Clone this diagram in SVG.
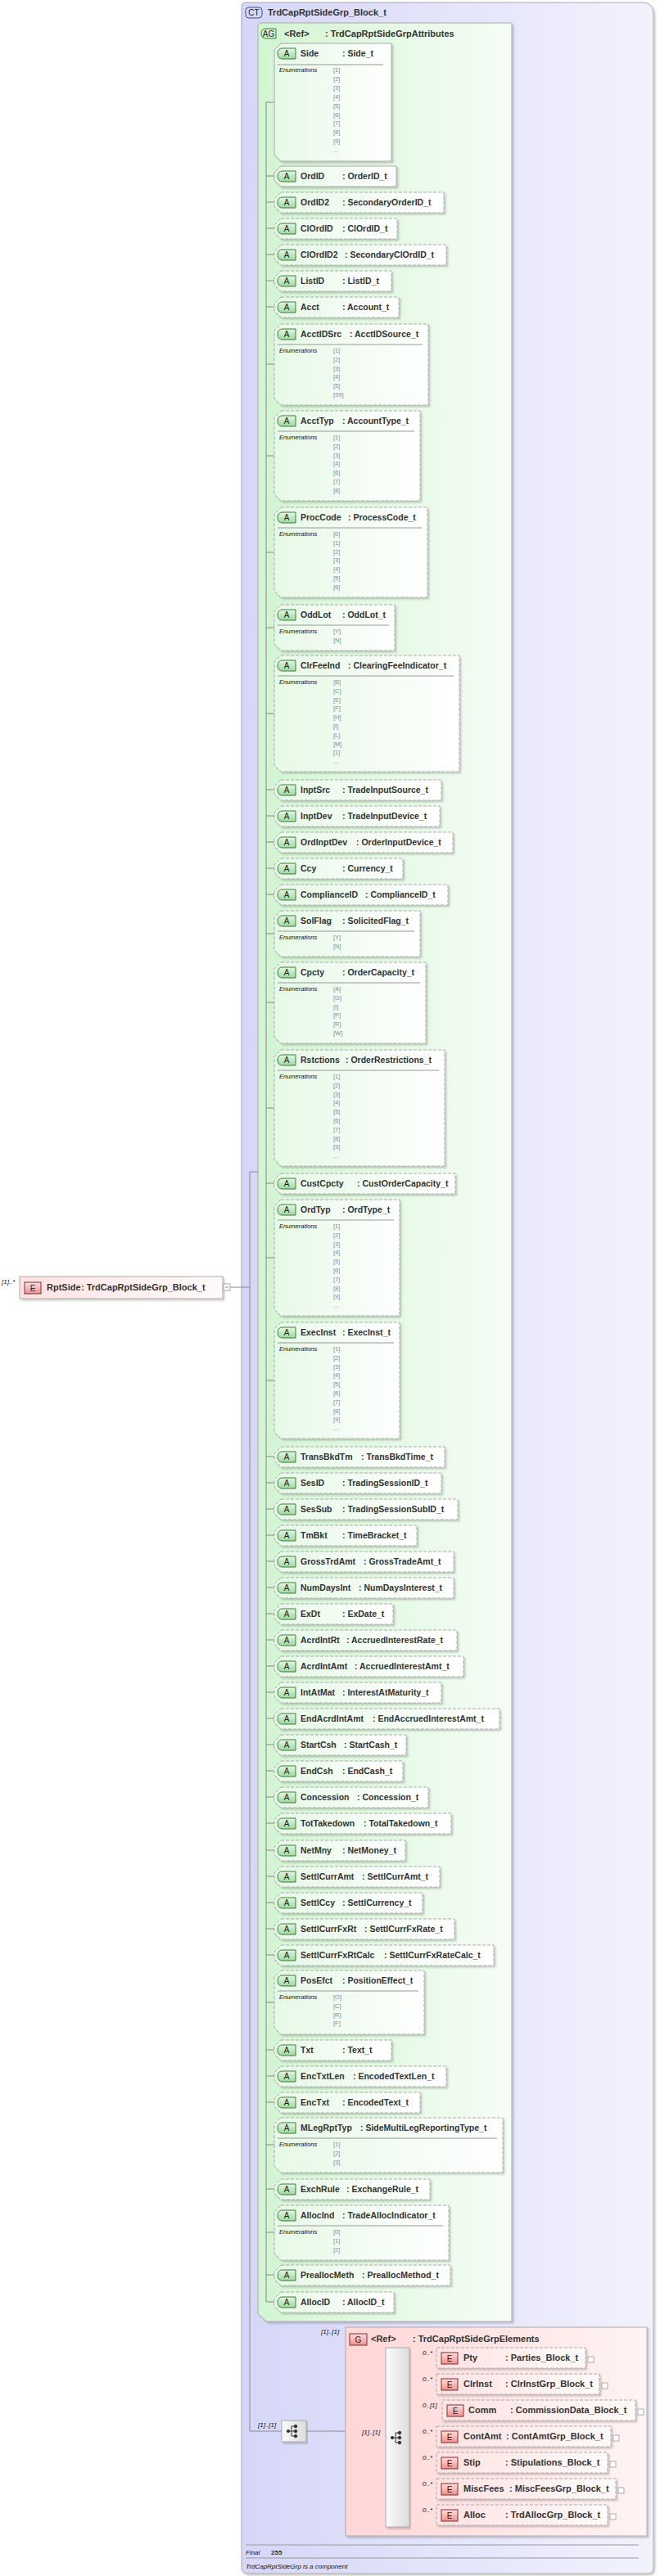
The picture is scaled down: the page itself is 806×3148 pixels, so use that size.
<svg xmlns="http://www.w3.org/2000/svg" width="806" height="3148" viewBox="0 0 806 3148">
<defs>
<linearGradient id="gct" x1="0" y1="0" x2="1" y2="0"><stop offset="0" stop-color="#d6d6f8"/><stop offset="1" stop-color="#f2f2fd"/></linearGradient>
<linearGradient id="gag" x1="0" y1="0" x2="1" y2="0"><stop offset="0" stop-color="#d2f5d2"/><stop offset="1" stop-color="#f6fdf6"/></linearGradient>
<linearGradient id="gat" x1="0" y1="0" x2="1" y2="0"><stop offset="0" stop-color="#e6f9e6"/><stop offset="1" stop-color="#ffffff"/></linearGradient>
<linearGradient id="gg" x1="0" y1="0" x2="1" y2="0"><stop offset="0" stop-color="#ffd6d6"/><stop offset="1" stop-color="#fff4f4"/></linearGradient>
<linearGradient id="ge" x1="0" y1="0" x2="1" y2="0"><stop offset="0" stop-color="#ffe2e2"/><stop offset="1" stop-color="#fffafa"/></linearGradient>
<linearGradient id="gs" x1="0" y1="0" x2="1" y2="0"><stop offset="0" stop-color="#fafafa"/><stop offset="1" stop-color="#dcdcdc"/></linearGradient>
<linearGradient id="gba" x1="0" y1="0" x2="0" y2="1"><stop offset="0" stop-color="#e4f7e4"/><stop offset="1" stop-color="#9fd89f"/></linearGradient>
<linearGradient id="gbe" x1="0" y1="0" x2="0" y2="1"><stop offset="0" stop-color="#ffe0e0"/><stop offset="1" stop-color="#f08e8e"/></linearGradient>
<filter id="sh" x="-5%" y="-5%" width="110%" height="120%"><feDropShadow dx="2" dy="2" stdDeviation="0.8" flood-color="#000" flood-opacity="0.2"/></filter>
</defs>
<style>
text{font-family:"Liberation Sans",Arial,sans-serif;fill:#333}
.n{font-size:10.5px;font-weight:bold}
.t{font-size:11px;font-weight:bold}
.bt{font-size:10px;text-anchor:middle;fill:#222}
.en{font-size:7.5px;font-style:italic;fill:#111}
.ev{font-size:7.5px;fill:#888}
.m{font-size:8px;font-style:italic;fill:#111}
.ab{fill:url(#gat);stroke:#aaa;stroke-width:1;filter:url(#sh)}
.d{stroke-dasharray:4,2}
.ba{fill:url(#gba);stroke:#3d7a3d;stroke-width:1}
.be{fill:url(#gbe);stroke:#7a3030;stroke-width:1}
.sep{stroke:#999;stroke-width:1}
.c line,.c polyline{stroke:#888;stroke-width:1;fill:none}
.eb{fill:url(#ge);stroke:#aaa;filter:url(#sh)}
.pm{fill:#fff;stroke:#aaa}
</style>

<g id="CT">
<path d="M300,3H784Q798,3 798,17V3138Q798,3145 791,3145H302Q295,3145 295,3138V8Q295,3 300,3Z" fill="url(#gct)" stroke="#aaa" filter="url(#sh)"/>
<rect x="300" y="9" width="20" height="13" rx="4" fill="#d6d6f8" stroke="#4a4a8a"/>
<text class="bt" x="310" y="19">CT</text>
<text class="t" x="327" y="19">TrdCapRptSideGrp_Block_t</text>
<line x1="300" y1="3110" x2="780" y2="3110" stroke="#999"/>
<text class="m" x="300" y="3122">Final</text>
<text x="331" y="3122" style="font-size:8px;font-weight:bold">255</text>
<line x1="300" y1="3126" x2="780" y2="3126" stroke="#999"/>
<text class="m" x="300" y="3139">TrdCapRptSideGrp is a component</text>
</g>

<g id="AG">
<path d="M320,28H625V2837H325L315,2827V33Q315,28 320,28Z" fill="url(#gag)" stroke="#aaa" filter="url(#sh)"/>
<path d="M325,35H337V47H325Q319,47 319,41Q319,35 325,35Z" fill="#cfeecf" stroke="#3d7a3d"/>
<text class="bt" x="328" y="45">AG</text>
<text class="t" x="347" y="45">&lt;Ref&gt;</text>
<text class="t" x="397" y="45">: TrdCapRptSideGrpAttributes</text>
</g>

<g id="RptSide">
<text class="m" x="2" y="1569">[1]..*</text>
<rect x="24" y="1560" width="248" height="27" fill="url(#ge)" stroke="#aaa" filter="url(#sh)"/>
<rect x="30" y="1567" width="20" height="14" class="be"/>
<text class="bt" x="40" y="1578">E</text>
<text class="t" x="57" y="1577">RptSide</text>
<text class="t" x="99" y="1577">: TrdCapRptSideGrp_Block_t</text>
<rect x="273" y="1569" width="8" height="8" class="pm"/>
<line x1="275" y1="1573" x2="279" y2="1573" stroke="#888"/>
</g>

<g class="c" id="connectors">
<polyline points="281,1573 305,1573"/>
<polyline points="315,1432 305,1432 305,2971 344,2971"/>
<polyline points="374,2971 471,2971"/>
<line x1="325" y1="125" x2="325" y2="2813"/>
<line x1="325" y1="125" x2="335" y2="125"/>
<line x1="325" y1="215" x2="335" y2="215"/>
<line x1="325" y1="247" x2="335" y2="247"/>
<line x1="325" y1="279" x2="335" y2="279"/>
<line x1="325" y1="311" x2="335" y2="311"/>
<line x1="325" y1="343" x2="335" y2="343"/>
<line x1="325" y1="375" x2="335" y2="375"/>
<line x1="325" y1="445" x2="335" y2="445"/>
<line x1="325" y1="557" x2="335" y2="557"/>
<line x1="325" y1="675" x2="335" y2="675"/>
<line x1="325" y1="767" x2="335" y2="767"/>
<line x1="325" y1="872" x2="335" y2="872"/>
<line x1="325" y1="965" x2="335" y2="965"/>
<line x1="325" y1="997" x2="335" y2="997"/>
<line x1="325" y1="1029" x2="335" y2="1029"/>
<line x1="325" y1="1061" x2="335" y2="1061"/>
<line x1="325" y1="1093" x2="335" y2="1093"/>
<line x1="325" y1="1141" x2="335" y2="1141"/>
<line x1="325" y1="1225" x2="335" y2="1225"/>
<line x1="325" y1="1354" x2="335" y2="1354"/>
<line x1="325" y1="1446" x2="335" y2="1446"/>
<line x1="325" y1="1537" x2="335" y2="1537"/>
<line x1="325" y1="1687" x2="335" y2="1687"/>
<line x1="325" y1="1780" x2="335" y2="1780"/>
<line x1="325" y1="1812" x2="335" y2="1812"/>
<line x1="325" y1="1844" x2="335" y2="1844"/>
<line x1="325" y1="1876" x2="335" y2="1876"/>
<line x1="325" y1="1908" x2="335" y2="1908"/>
<line x1="325" y1="1940" x2="335" y2="1940"/>
<line x1="325" y1="1972" x2="335" y2="1972"/>
<line x1="325" y1="2004" x2="335" y2="2004"/>
<line x1="325" y1="2036" x2="335" y2="2036"/>
<line x1="325" y1="2068" x2="335" y2="2068"/>
<line x1="325" y1="2100" x2="335" y2="2100"/>
<line x1="325" y1="2132" x2="335" y2="2132"/>
<line x1="325" y1="2164" x2="335" y2="2164"/>
<line x1="325" y1="2196" x2="335" y2="2196"/>
<line x1="325" y1="2228" x2="335" y2="2228"/>
<line x1="325" y1="2261" x2="335" y2="2261"/>
<line x1="325" y1="2293" x2="335" y2="2293"/>
<line x1="325" y1="2325" x2="335" y2="2325"/>
<line x1="325" y1="2357" x2="335" y2="2357"/>
<line x1="325" y1="2389" x2="335" y2="2389"/>
<line x1="325" y1="2447" x2="335" y2="2447"/>
<line x1="325" y1="2505" x2="335" y2="2505"/>
<line x1="325" y1="2537" x2="335" y2="2537"/>
<line x1="325" y1="2569" x2="335" y2="2569"/>
<line x1="325" y1="2621" x2="335" y2="2621"/>
<line x1="325" y1="2675" x2="335" y2="2675"/>
<line x1="325" y1="2728" x2="335" y2="2728"/>
<line x1="325" y1="2780" x2="335" y2="2780"/>
<line x1="325" y1="2813" x2="335" y2="2813"/>
<line x1="500" y1="2882" x2="533" y2="2882"/>
<line x1="500" y1="2914" x2="533" y2="2914"/>
<line x1="500" y1="2946" x2="540" y2="2946"/>
<line x1="500" y1="2978" x2="533" y2="2978"/>
<line x1="500" y1="3010" x2="533" y2="3010"/>
<line x1="500" y1="3042" x2="533" y2="3042"/>
<line x1="500" y1="3074" x2="533" y2="3074"/>
</g>

<g id="Side" transform="translate(0,53)"><path class="ab" d="M343,0H478V144H343L335,136V8Z"/><path class="ba" d="M345,6H361V19H345Q339,19 339,12.5Q339,6 345,6Z"/><text class="bt" x="350" y="16">A</text><text class="n" x="367" y="16">Side</text><text class="n" x="418" y="16">: Side_t</text><line class="sep" x1="339" y1="26" x2="468" y2="26"/><text class="en" x="341" y="35">Enumerations</text><text class="ev" x="407" y="35">[1]<tspan x="407" dy="10.9">[2]</tspan><tspan x="407" dy="10.9">[3]</tspan><tspan x="407" dy="10.9">[4]</tspan><tspan x="407" dy="10.9">[5]</tspan><tspan x="407" dy="10.9">[6]</tspan><tspan x="407" dy="10.9">[7]</tspan><tspan x="407" dy="10.9">[8]</tspan><tspan x="407" dy="10.9">[9]</tspan><tspan x="407" dy="10.9">...</tspan></text></g>
<g id="OrdID" transform="translate(0,203)"><path class="ab" d="M343,0H484V25H343L335,17V8Z"/><path class="ba" d="M345,6H361V19H345Q339,19 339,12.5Q339,6 345,6Z"/><text class="bt" x="350" y="16">A</text><text class="n" x="367" y="16">OrdID</text><text class="n" x="418" y="16">: OrderID_t</text></g>
<g id="OrdID2" transform="translate(0,235)"><path class="ab d" d="M343,0H542V25H343L335,17V8Z"/><path class="ba" d="M345,6H361V19H345Q339,19 339,12.5Q339,6 345,6Z"/><text class="bt" x="350" y="16">A</text><text class="n" x="367" y="16">OrdID2</text><text class="n" x="418" y="16">: SecondaryOrderID_t</text></g>
<g id="ClOrdID" transform="translate(0,267)"><path class="ab d" d="M343,0H485V25H343L335,17V8Z"/><path class="ba" d="M345,6H361V19H345Q339,19 339,12.5Q339,6 345,6Z"/><text class="bt" x="350" y="16">A</text><text class="n" x="367" y="16">ClOrdID</text><text class="n" x="418" y="16">: ClOrdID_t</text></g>
<g id="ClOrdID2" transform="translate(0,299)"><path class="ab d" d="M343,0H545V25H343L335,17V8Z"/><path class="ba" d="M345,6H361V19H345Q339,19 339,12.5Q339,6 345,6Z"/><text class="bt" x="350" y="16">A</text><text class="n" x="367" y="16">ClOrdID2</text><text class="n" x="421" y="16">: SecondaryClOrdID_t</text></g>
<g id="ListID" transform="translate(0,331)"><path class="ab d" d="M343,0H478V25H343L335,17V8Z"/><path class="ba" d="M345,6H361V19H345Q339,19 339,12.5Q339,6 345,6Z"/><text class="bt" x="350" y="16">A</text><text class="n" x="367" y="16">ListID</text><text class="n" x="418" y="16">: ListID_t</text></g>
<g id="Acct" transform="translate(0,363)"><path class="ab d" d="M343,0H487V25H343L335,17V8Z"/><path class="ba" d="M345,6H361V19H345Q339,19 339,12.5Q339,6 345,6Z"/><text class="bt" x="350" y="16">A</text><text class="n" x="367" y="16">Acct</text><text class="n" x="418" y="16">: Account_t</text></g>
<g id="AcctIDSrc" transform="translate(0,396)"><path class="ab d" d="M343,0H523V99H343L335,91V8Z"/><path class="ba" d="M345,6H361V19H345Q339,19 339,12.5Q339,6 345,6Z"/><text class="bt" x="350" y="16">A</text><text class="n" x="367" y="16">AcctIDSrc</text><text class="n" x="427" y="16">: AcctIDSource_t</text><line class="sep" x1="339" y1="25" x2="516" y2="25"/><text class="en" x="341" y="35">Enumerations</text><text class="ev" x="407" y="35">[1]<tspan x="407" dy="10.8">[2]</tspan><tspan x="407" dy="10.8">[3]</tspan><tspan x="407" dy="10.8">[4]</tspan><tspan x="407" dy="10.8">[5]</tspan><tspan x="407" dy="10.8">[99]</tspan></text></g>
<g id="AcctTyp" transform="translate(0,502)"><path class="ab d" d="M343,0H513V110H343L335,102V8Z"/><path class="ba" d="M345,6H361V19H345Q339,19 339,12.5Q339,6 345,6Z"/><text class="bt" x="350" y="16">A</text><text class="n" x="367" y="16">AcctTyp</text><text class="n" x="418" y="16">: AccountType_t</text><line class="sep" x1="339" y1="25" x2="506" y2="25"/><text class="en" x="341" y="35">Enumerations</text><text class="ev" x="407" y="35">[1]<tspan x="407" dy="10.8">[2]</tspan><tspan x="407" dy="10.8">[3]</tspan><tspan x="407" dy="10.8">[4]</tspan><tspan x="407" dy="10.8">[6]</tspan><tspan x="407" dy="10.8">[7]</tspan><tspan x="407" dy="10.8">[8]</tspan></text></g>
<g id="ProcCode" transform="translate(0,620)"><path class="ab d" d="M343,0H522V110H343L335,102V8Z"/><path class="ba" d="M345,6H361V19H345Q339,19 339,12.5Q339,6 345,6Z"/><text class="bt" x="350" y="16">A</text><text class="n" x="367" y="16">ProcCode</text><text class="n" x="425" y="16">: ProcessCode_t</text><line class="sep" x1="339" y1="25" x2="515" y2="25"/><text class="en" x="341" y="35">Enumerations</text><text class="ev" x="407" y="35">[0]<tspan x="407" dy="10.8">[1]</tspan><tspan x="407" dy="10.8">[2]</tspan><tspan x="407" dy="10.8">[3]</tspan><tspan x="407" dy="10.8">[4]</tspan><tspan x="407" dy="10.8">[5]</tspan><tspan x="407" dy="10.8">[6]</tspan></text></g>
<g id="OddLot" transform="translate(0,739)"><path class="ab d" d="M343,0H482V56H343L335,48V8Z"/><path class="ba" d="M345,6H361V19H345Q339,19 339,12.5Q339,6 345,6Z"/><text class="bt" x="350" y="16">A</text><text class="n" x="367" y="16">OddLot</text><text class="n" x="418" y="16">: OddLot_t</text><line class="sep" x1="339" y1="25" x2="475" y2="25"/><text class="en" x="341" y="35">Enumerations</text><text class="ev" x="407" y="35">[Y]<tspan x="407" dy="10.8">[N]</tspan></text></g>
<g id="ClrFeeInd" transform="translate(0,801)"><path class="ab d" d="M343,0H561V142H343L335,134V8Z"/><path class="ba" d="M345,6H361V19H345Q339,19 339,12.5Q339,6 345,6Z"/><text class="bt" x="350" y="16">A</text><text class="n" x="367" y="16">ClrFeeInd</text><text class="n" x="425" y="16">: ClearingFeeIndicator_t</text><line class="sep" x1="339" y1="25" x2="554" y2="25"/><text class="en" x="341" y="35">Enumerations</text><text class="ev" x="407" y="35">[B]<tspan x="407" dy="10.8">[C]</tspan><tspan x="407" dy="10.8">[E]</tspan><tspan x="407" dy="10.8">[F]</tspan><tspan x="407" dy="10.8">[H]</tspan><tspan x="407" dy="10.8">[I]</tspan><tspan x="407" dy="10.8">[L]</tspan><tspan x="407" dy="10.8">[M]</tspan><tspan x="407" dy="10.8">[1]</tspan><tspan x="407" dy="10.8">...</tspan></text></g>
<g id="InptSrc" transform="translate(0,953)"><path class="ab d" d="M343,0H539V25H343L335,17V8Z"/><path class="ba" d="M345,6H361V19H345Q339,19 339,12.5Q339,6 345,6Z"/><text class="bt" x="350" y="16">A</text><text class="n" x="367" y="16">InptSrc</text><text class="n" x="418" y="16">: TradeInputSource_t</text></g>
<g id="InptDev" transform="translate(0,985)"><path class="ab d" d="M343,0H537V25H343L335,17V8Z"/><path class="ba" d="M345,6H361V19H345Q339,19 339,12.5Q339,6 345,6Z"/><text class="bt" x="350" y="16">A</text><text class="n" x="367" y="16">InptDev</text><text class="n" x="418" y="16">: TradeInputDevice_t</text></g>
<g id="OrdInptDev" transform="translate(0,1017)"><path class="ab d" d="M343,0H553V25H343L335,17V8Z"/><path class="ba" d="M345,6H361V19H345Q339,19 339,12.5Q339,6 345,6Z"/><text class="bt" x="350" y="16">A</text><text class="n" x="367" y="16">OrdInptDev</text><text class="n" x="435" y="16">: OrderInputDevice_t</text></g>
<g id="Ccy" transform="translate(0,1049)"><path class="ab d" d="M343,0H492V25H343L335,17V8Z"/><path class="ba" d="M345,6H361V19H345Q339,19 339,12.5Q339,6 345,6Z"/><text class="bt" x="350" y="16">A</text><text class="n" x="367" y="16">Ccy</text><text class="n" x="418" y="16">: Currency_t</text></g>
<g id="ComplianceID" transform="translate(0,1081)"><path class="ab d" d="M343,0H547V25H343L335,17V8Z"/><path class="ba" d="M345,6H361V19H345Q339,19 339,12.5Q339,6 345,6Z"/><text class="bt" x="350" y="16">A</text><text class="n" x="367" y="16">ComplianceID</text><text class="n" x="446" y="16">: ComplianceID_t</text></g>
<g id="SolFlag" transform="translate(0,1113)"><path class="ab d" d="M343,0H513V56H343L335,48V8Z"/><path class="ba" d="M345,6H361V19H345Q339,19 339,12.5Q339,6 345,6Z"/><text class="bt" x="350" y="16">A</text><text class="n" x="367" y="16">SolFlag</text><text class="n" x="418" y="16">: SolicitedFlag_t</text><line class="sep" x1="339" y1="25" x2="506" y2="25"/><text class="en" x="341" y="35">Enumerations</text><text class="ev" x="407" y="35">[Y]<tspan x="407" dy="10.8">[N]</tspan></text></g>
<g id="Cpcty" transform="translate(0,1176)"><path class="ab d" d="M343,0H520V99H343L335,91V8Z"/><path class="ba" d="M345,6H361V19H345Q339,19 339,12.5Q339,6 345,6Z"/><text class="bt" x="350" y="16">A</text><text class="n" x="367" y="16">Cpcty</text><text class="n" x="418" y="16">: OrderCapacity_t</text><line class="sep" x1="339" y1="25" x2="513" y2="25"/><text class="en" x="341" y="35">Enumerations</text><text class="ev" x="407" y="35">[A]<tspan x="407" dy="10.8">[G]</tspan><tspan x="407" dy="10.8">[I]</tspan><tspan x="407" dy="10.8">[P]</tspan><tspan x="407" dy="10.8">[R]</tspan><tspan x="407" dy="10.8">[W]</tspan></text></g>
<g id="Rstctions" transform="translate(0,1283)"><path class="ab d" d="M343,0H543V142H343L335,134V8Z"/><path class="ba" d="M345,6H361V19H345Q339,19 339,12.5Q339,6 345,6Z"/><text class="bt" x="350" y="16">A</text><text class="n" x="367" y="16">Rstctions</text><text class="n" x="422" y="16">: OrderRestrictions_t</text><line class="sep" x1="339" y1="25" x2="536" y2="25"/><text class="en" x="341" y="35">Enumerations</text><text class="ev" x="407" y="35">[1]<tspan x="407" dy="10.8">[2]</tspan><tspan x="407" dy="10.8">[3]</tspan><tspan x="407" dy="10.8">[4]</tspan><tspan x="407" dy="10.8">[5]</tspan><tspan x="407" dy="10.8">[6]</tspan><tspan x="407" dy="10.8">[7]</tspan><tspan x="407" dy="10.8">[8]</tspan><tspan x="407" dy="10.8">[9]</tspan><tspan x="407" dy="10.8">...</tspan></text></g>
<g id="CustCpcty" transform="translate(0,1434)"><path class="ab d" d="M343,0H556V25H343L335,17V8Z"/><path class="ba" d="M345,6H361V19H345Q339,19 339,12.5Q339,6 345,6Z"/><text class="bt" x="350" y="16">A</text><text class="n" x="367" y="16">CustCpcty</text><text class="n" x="436" y="16">: CustOrderCapacity_t</text></g>
<g id="OrdTyp" transform="translate(0,1466)"><path class="ab d" d="M343,0H488V142H343L335,134V8Z"/><path class="ba" d="M345,6H361V19H345Q339,19 339,12.5Q339,6 345,6Z"/><text class="bt" x="350" y="16">A</text><text class="n" x="367" y="16">OrdTyp</text><text class="n" x="418" y="16">: OrdType_t</text><line class="sep" x1="339" y1="25" x2="481" y2="25"/><text class="en" x="341" y="35">Enumerations</text><text class="ev" x="407" y="35">[1]<tspan x="407" dy="10.8">[2]</tspan><tspan x="407" dy="10.8">[3]</tspan><tspan x="407" dy="10.8">[4]</tspan><tspan x="407" dy="10.8">[5]</tspan><tspan x="407" dy="10.8">[6]</tspan><tspan x="407" dy="10.8">[7]</tspan><tspan x="407" dy="10.8">[8]</tspan><tspan x="407" dy="10.8">[9]</tspan><tspan x="407" dy="10.8">...</tspan></text></g>
<g id="ExecInst" transform="translate(0,1616)"><path class="ab d" d="M343,0H488V142H343L335,134V8Z"/><path class="ba" d="M345,6H361V19H345Q339,19 339,12.5Q339,6 345,6Z"/><text class="bt" x="350" y="16">A</text><text class="n" x="367" y="16">ExecInst</text><text class="n" x="418" y="16">: ExecInst_t</text><line class="sep" x1="339" y1="25" x2="481" y2="25"/><text class="en" x="341" y="35">Enumerations</text><text class="ev" x="407" y="35">[1]<tspan x="407" dy="10.8">[2]</tspan><tspan x="407" dy="10.8">[3]</tspan><tspan x="407" dy="10.8">[4]</tspan><tspan x="407" dy="10.8">[5]</tspan><tspan x="407" dy="10.8">[6]</tspan><tspan x="407" dy="10.8">[7]</tspan><tspan x="407" dy="10.8">[8]</tspan><tspan x="407" dy="10.8">[9]</tspan><tspan x="407" dy="10.8">...</tspan></text></g>
<g id="TransBkdTm" transform="translate(0,1768)"><path class="ab d" d="M343,0H543V25H343L335,17V8Z"/><path class="ba" d="M345,6H361V19H345Q339,19 339,12.5Q339,6 345,6Z"/><text class="bt" x="350" y="16">A</text><text class="n" x="367" y="16">TransBkdTm</text><text class="n" x="441" y="16">: TransBkdTime_t</text></g>
<g id="SesID" transform="translate(0,1800)"><path class="ab d" d="M343,0H539V25H343L335,17V8Z"/><path class="ba" d="M345,6H361V19H345Q339,19 339,12.5Q339,6 345,6Z"/><text class="bt" x="350" y="16">A</text><text class="n" x="367" y="16">SesID</text><text class="n" x="418" y="16">: TradingSessionID_t</text></g>
<g id="SesSub" transform="translate(0,1832)"><path class="ab d" d="M343,0H559V25H343L335,17V8Z"/><path class="ba" d="M345,6H361V19H345Q339,19 339,12.5Q339,6 345,6Z"/><text class="bt" x="350" y="16">A</text><text class="n" x="367" y="16">SesSub</text><text class="n" x="418" y="16">: TradingSessionSubID_t</text></g>
<g id="TmBkt" transform="translate(0,1864)"><path class="ab d" d="M343,0H509V25H343L335,17V8Z"/><path class="ba" d="M345,6H361V19H345Q339,19 339,12.5Q339,6 345,6Z"/><text class="bt" x="350" y="16">A</text><text class="n" x="367" y="16">TmBkt</text><text class="n" x="418" y="16">: TimeBracket_t</text></g>
<g id="GrossTrdAmt" transform="translate(0,1896)"><path class="ab d" d="M343,0H554V25H343L335,17V8Z"/><path class="ba" d="M345,6H361V19H345Q339,19 339,12.5Q339,6 345,6Z"/><text class="bt" x="350" y="16">A</text><text class="n" x="367" y="16">GrossTrdAmt</text><text class="n" x="444" y="16">: GrossTradeAmt_t</text></g>
<g id="NumDaysInt" transform="translate(0,1928)"><path class="ab d" d="M343,0H554V25H343L335,17V8Z"/><path class="ba" d="M345,6H361V19H345Q339,19 339,12.5Q339,6 345,6Z"/><text class="bt" x="350" y="16">A</text><text class="n" x="367" y="16">NumDaysInt</text><text class="n" x="438" y="16">: NumDaysInterest_t</text></g>
<g id="ExDt" transform="translate(0,1960)"><path class="ab d" d="M343,0H480V25H343L335,17V8Z"/><path class="ba" d="M345,6H361V19H345Q339,19 339,12.5Q339,6 345,6Z"/><text class="bt" x="350" y="16">A</text><text class="n" x="367" y="16">ExDt</text><text class="n" x="418" y="16">: ExDate_t</text></g>
<g id="AcrdIntRt" transform="translate(0,1992)"><path class="ab d" d="M343,0H558V25H343L335,17V8Z"/><path class="ba" d="M345,6H361V19H345Q339,19 339,12.5Q339,6 345,6Z"/><text class="bt" x="350" y="16">A</text><text class="n" x="367" y="16">AcrdIntRt</text><text class="n" x="423" y="16">: AccruedInterestRate_t</text></g>
<g id="AcrdIntAmt" transform="translate(0,2024)"><path class="ab d" d="M343,0H566V25H343L335,17V8Z"/><path class="ba" d="M345,6H361V19H345Q339,19 339,12.5Q339,6 345,6Z"/><text class="bt" x="350" y="16">A</text><text class="n" x="367" y="16">AcrdIntAmt</text><text class="n" x="433" y="16">: AccruedInterestAmt_t</text></g>
<g id="IntAtMat" transform="translate(0,2056)"><path class="ab d" d="M343,0H539V25H343L335,17V8Z"/><path class="ba" d="M345,6H361V19H345Q339,19 339,12.5Q339,6 345,6Z"/><text class="bt" x="350" y="16">A</text><text class="n" x="367" y="16">IntAtMat</text><text class="n" x="418" y="16">: InterestAtMaturity_t</text></g>
<g id="EndAcrdIntAmt" transform="translate(0,2088)"><path class="ab d" d="M343,0H610V25H343L335,17V8Z"/><path class="ba" d="M345,6H361V19H345Q339,19 339,12.5Q339,6 345,6Z"/><text class="bt" x="350" y="16">A</text><text class="n" x="367" y="16">EndAcrdIntAmt</text><text class="n" x="455" y="16">: EndAccruedInterestAmt_t</text></g>
<g id="StartCsh" transform="translate(0,2120)"><path class="ab d" d="M343,0H496V25H343L335,17V8Z"/><path class="ba" d="M345,6H361V19H345Q339,19 339,12.5Q339,6 345,6Z"/><text class="bt" x="350" y="16">A</text><text class="n" x="367" y="16">StartCsh</text><text class="n" x="420" y="16">: StartCash_t</text></g>
<g id="EndCsh" transform="translate(0,2152)"><path class="ab d" d="M343,0H492V25H343L335,17V8Z"/><path class="ba" d="M345,6H361V19H345Q339,19 339,12.5Q339,6 345,6Z"/><text class="bt" x="350" y="16">A</text><text class="n" x="367" y="16">EndCsh</text><text class="n" x="418" y="16">: EndCash_t</text></g>
<g id="Concession" transform="translate(0,2184)"><path class="ab d" d="M343,0H523V25H343L335,17V8Z"/><path class="ba" d="M345,6H361V19H345Q339,19 339,12.5Q339,6 345,6Z"/><text class="bt" x="350" y="16">A</text><text class="n" x="367" y="16">Concession</text><text class="n" x="436" y="16">: Concession_t</text></g>
<g id="TotTakedown" transform="translate(0,2216)"><path class="ab d" d="M343,0H551V25H343L335,17V8Z"/><path class="ba" d="M345,6H361V19H345Q339,19 339,12.5Q339,6 345,6Z"/><text class="bt" x="350" y="16">A</text><text class="n" x="367" y="16">TotTakedown</text><text class="n" x="444" y="16">: TotalTakedown_t</text></g>
<g id="NetMny" transform="translate(0,2249)"><path class="ab d" d="M343,0H495V25H343L335,17V8Z"/><path class="ba" d="M345,6H361V19H345Q339,19 339,12.5Q339,6 345,6Z"/><text class="bt" x="350" y="16">A</text><text class="n" x="367" y="16">NetMny</text><text class="n" x="418" y="16">: NetMoney_t</text></g>
<g id="SettlCurrAmt" transform="translate(0,2281)"><path class="ab d" d="M343,0H537V25H343L335,17V8Z"/><path class="ba" d="M345,6H361V19H345Q339,19 339,12.5Q339,6 345,6Z"/><text class="bt" x="350" y="16">A</text><text class="n" x="367" y="16">SettlCurrAmt</text><text class="n" x="442" y="16">: SettlCurrAmt_t</text></g>
<g id="SettlCcy" transform="translate(0,2313)"><path class="ab d" d="M343,0H516V25H343L335,17V8Z"/><path class="ba" d="M345,6H361V19H345Q339,19 339,12.5Q339,6 345,6Z"/><text class="bt" x="350" y="16">A</text><text class="n" x="367" y="16">SettlCcy</text><text class="n" x="418" y="16">: SettlCurrency_t</text></g>
<g id="SettlCurrFxRt" transform="translate(0,2345)"><path class="ab d" d="M343,0H555V25H343L335,17V8Z"/><path class="ba" d="M345,6H361V19H345Q339,19 339,12.5Q339,6 345,6Z"/><text class="bt" x="350" y="16">A</text><text class="n" x="367" y="16">SettlCurrFxRt</text><text class="n" x="445" y="16">: SettlCurrFxRate_t</text></g>
<g id="SettlCurrFxRtCalc" transform="translate(0,2377)"><path class="ab d" d="M343,0H603V25H343L335,17V8Z"/><path class="ba" d="M345,6H361V19H345Q339,19 339,12.5Q339,6 345,6Z"/><text class="bt" x="350" y="16">A</text><text class="n" x="367" y="16">SettlCurrFxRtCalc</text><text class="n" x="469" y="16">: SettlCurrFxRateCalc_t</text></g>
<g id="PosEfct" transform="translate(0,2408)"><path class="ab d" d="M343,0H518V78H343L335,70V8Z"/><path class="ba" d="M345,6H361V19H345Q339,19 339,12.5Q339,6 345,6Z"/><text class="bt" x="350" y="16">A</text><text class="n" x="367" y="16">PosEfct</text><text class="n" x="418" y="16">: PositionEffect_t</text><line class="sep" x1="339" y1="25" x2="511" y2="25"/><text class="en" x="341" y="35">Enumerations</text><text class="ev" x="407" y="35">[O]<tspan x="407" dy="10.8">[C]</tspan><tspan x="407" dy="10.8">[R]</tspan><tspan x="407" dy="10.8">[F]</tspan></text></g>
<g id="Txt" transform="translate(0,2493)"><path class="ab d" d="M343,0H478V25H343L335,17V8Z"/><path class="ba" d="M345,6H361V19H345Q339,19 339,12.5Q339,6 345,6Z"/><text class="bt" x="350" y="16">A</text><text class="n" x="367" y="16">Txt</text><text class="n" x="418" y="16">: Text_t</text></g>
<g id="EncTxtLen" transform="translate(0,2525)"><path class="ab d" d="M343,0H545V25H343L335,17V8Z"/><path class="ba" d="M345,6H361V19H345Q339,19 339,12.5Q339,6 345,6Z"/><text class="bt" x="350" y="16">A</text><text class="n" x="367" y="16">EncTxtLen</text><text class="n" x="431" y="16">: EncodedTextLen_t</text></g>
<g id="EncTxt" transform="translate(0,2557)"><path class="ab d" d="M343,0H513V25H343L335,17V8Z"/><path class="ba" d="M345,6H361V19H345Q339,19 339,12.5Q339,6 345,6Z"/><text class="bt" x="350" y="16">A</text><text class="n" x="367" y="16">EncTxt</text><text class="n" x="418" y="16">: EncodedText_t</text></g>
<g id="MLegRptTyp" transform="translate(0,2588)"><path class="ab d" d="M343,0H614V67H343L335,59V8Z"/><path class="ba" d="M345,6H361V19H345Q339,19 339,12.5Q339,6 345,6Z"/><text class="bt" x="350" y="16">A</text><text class="n" x="367" y="16">MLegRptTyp</text><text class="n" x="440" y="16">: SideMultiLegReportingType_t</text><line class="sep" x1="339" y1="25" x2="607" y2="25"/><text class="en" x="341" y="35">Enumerations</text><text class="ev" x="407" y="35">[1]<tspan x="407" dy="10.8">[2]</tspan><tspan x="407" dy="10.8">[3]</tspan></text></g>
<g id="ExchRule" transform="translate(0,2663)"><path class="ab d" d="M343,0H525V25H343L335,17V8Z"/><path class="ba" d="M345,6H361V19H345Q339,19 339,12.5Q339,6 345,6Z"/><text class="bt" x="350" y="16">A</text><text class="n" x="367" y="16">ExchRule</text><text class="n" x="423" y="16">: ExchangeRule_t</text></g>
<g id="AllocInd" transform="translate(0,2695)"><path class="ab d" d="M343,0H548V67H343L335,59V8Z"/><path class="ba" d="M345,6H361V19H345Q339,19 339,12.5Q339,6 345,6Z"/><text class="bt" x="350" y="16">A</text><text class="n" x="367" y="16">AllocInd</text><text class="n" x="418" y="16">: TradeAllocIndicator_t</text><line class="sep" x1="339" y1="25" x2="541" y2="25"/><text class="en" x="341" y="35">Enumerations</text><text class="ev" x="407" y="35">[0]<tspan x="407" dy="10.8">[1]</tspan><tspan x="407" dy="10.8">[2]</tspan></text></g>
<g id="PreallocMeth" transform="translate(0,2768)"><path class="ab d" d="M343,0H550V25H343L335,17V8Z"/><path class="ba" d="M345,6H361V19H345Q339,19 339,12.5Q339,6 345,6Z"/><text class="bt" x="350" y="16">A</text><text class="n" x="367" y="16">PreallocMeth</text><text class="n" x="442" y="16">: PreallocMethod_t</text></g>
<g id="AllocID" transform="translate(0,2801)"><path class="ab d" d="M343,0H481V25H343L335,17V8Z"/><path class="ba" d="M345,6H361V19H345Q339,19 339,12.5Q339,6 345,6Z"/><text class="bt" x="350" y="16">A</text><text class="n" x="367" y="16">AllocID</text><text class="n" x="418" y="16">: AllocID_t</text></g>

<g id="seq1">
<text class="m" x="315" y="2966">[1]..[1]</text>
<rect x="344" y="2958" width="30" height="26" fill="url(#gs)" stroke="#aaa" filter="url(#sh)"/>
<g fill="#333" stroke="#333"><circle cx="352" cy="2971" r="1.6"/><line x1="352" y1="2971" x2="356" y2="2971"/><polyline points="359,2965 356,2965 356,2977 359,2977" fill="none"/><line x1="356" y1="2971" x2="359" y2="2971"/><circle cx="361" cy="2965" r="1.8"/><circle cx="361" cy="2971" r="1.8"/><circle cx="361" cy="2977" r="1.8"/></g>
</g>

<g id="G">
<text class="m" x="392" y="2852">[1]..[1]</text>
<rect x="422" y="2844" width="368" height="255" fill="url(#gg)" stroke="#aaa" filter="url(#sh)"/>
<rect x="427" y="2852" width="21" height="14" class="be"/>
<text class="bt" x="437.5" y="2863">G</text>
<text class="t" x="453" y="2862">&lt;Ref&gt;</text>
<text class="t" x="504" y="2862">: TrdCapRptSideGrpElements</text>
<text class="m" x="442" y="2975">[1]..[1]</text>
<rect x="471" y="2869" width="29" height="219" fill="url(#gs)" stroke="#aaa" filter="url(#sh)"/>
<g fill="#333" stroke="#333"><circle cx="479" cy="2979" r="1.6"/><line x1="479" y1="2979" x2="483" y2="2979"/><polyline points="486,2973 483,2973 483,2985 486,2985" fill="none"/><line x1="483" y1="2979" x2="486" y2="2979"/><circle cx="488" cy="2973" r="1.8"/><circle cx="488" cy="2979" r="1.8"/><circle cx="488" cy="2985" r="1.8"/></g>
</g>

<g id="Pty"><text class="m" x="516" y="2878">0..*</text><rect class="eb d" x="533" y="2869" width="182" height="25"/><rect class="be" x="539" y="2875" width="20" height="14"/><text class="bt" x="549" y="2886">E</text><text class="t" x="566" y="2885">Pty</text><text class="t" x="617" y="2885">: Parties_Block_t</text><rect class="pm" x="718" y="2880" width="7" height="7"/></g>
<g id="ClrInst"><text class="m" x="516" y="2910">0..*</text><rect class="eb d" x="533" y="2901" width="199" height="25"/><rect class="be" x="539" y="2907" width="20" height="14"/><text class="bt" x="549" y="2918">E</text><text class="t" x="566" y="2917">ClrInst</text><text class="t" x="617" y="2917">: ClrInstGrp_Block_t</text><rect class="pm" x="735" y="2912" width="7" height="7"/></g>
<g id="Comm"><text class="m" x="516" y="2942">0..[1]</text><rect class="eb d" x="540" y="2933" width="236" height="25"/><rect class="be" x="546" y="2939" width="20" height="14"/><text class="bt" x="556" y="2950">E</text><text class="t" x="572" y="2949">Comm</text><text class="t" x="623" y="2949">: CommissionData_Block_t</text><rect class="pm" x="779" y="2944" width="7" height="7"/></g>
<g id="ContAmt"><text class="m" x="516" y="2974">0..*</text><rect class="eb d" x="533" y="2965" width="213" height="25"/><rect class="be" x="539" y="2971" width="20" height="14"/><text class="bt" x="549" y="2982">E</text><text class="t" x="566" y="2981">ContAmt</text><text class="t" x="618" y="2981">: ContAmtGrp_Block_t</text><rect class="pm" x="749" y="2976" width="7" height="7"/></g>
<g id="Stip"><text class="m" x="516" y="3006">0..*</text><rect class="eb d" x="533" y="2997" width="209" height="25"/><rect class="be" x="539" y="3003" width="20" height="14"/><text class="bt" x="549" y="3014">E</text><text class="t" x="566" y="3013">Stip</text><text class="t" x="617" y="3013">: Stipulations_Block_t</text><rect class="pm" x="745" y="3008" width="7" height="7"/></g>
<g id="MiscFees"><text class="m" x="516" y="3038">0..*</text><rect class="eb d" x="533" y="3029" width="219" height="25"/><rect class="be" x="539" y="3035" width="20" height="14"/><text class="bt" x="549" y="3046">E</text><text class="t" x="566" y="3045">MiscFees</text><text class="t" x="622" y="3045">: MiscFeesGrp_Block_t</text><rect class="pm" x="755" y="3040" width="7" height="7"/></g>
<g id="Alloc"><text class="m" x="516" y="3070">0..*</text><rect class="eb d" x="533" y="3061" width="209" height="25"/><rect class="be" x="539" y="3067" width="20" height="14"/><text class="bt" x="549" y="3078">E</text><text class="t" x="566" y="3077">Alloc</text><text class="t" x="617" y="3077">: TrdAllocGrp_Block_t</text><rect class="pm" x="745" y="3072" width="7" height="7"/></g>
</svg>
